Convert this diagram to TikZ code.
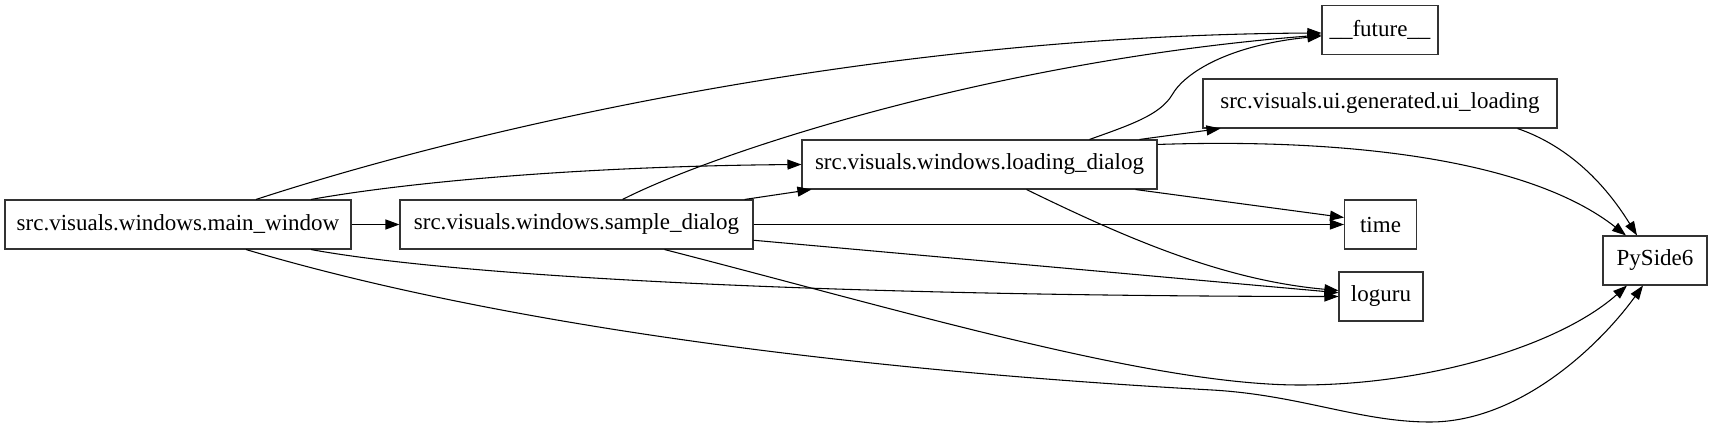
\documentclass[tikz,border=0pt]{standalone}
\usepackage{fontspec}
\setmainfont{Liberation Serif}
\usetikzlibrary{arrows.meta}
\begin{document}
\begin{tikzpicture}[x=0.75pt,y=-0.75pt,
  mod/.style={draw=black!80, line width=0.8pt, rectangle, inner sep=0pt,
    minimum height=36.75pt, font=\fontsize{17.25}{20}\selectfont},
  dep/.style={draw=black, line width=0.8pt, -{Triangle[length=10.5pt,width=7.5pt]}}]
\fill[white] (0,0) rectangle (1711,424);
\useasboundingbox (0,0) rectangle (1711,424);

\node[mod, minimum width=259.5pt] (mw) at (178,224.5) {src.visuals.windows.main\_window};
\node[mod, minimum width=264.75pt] (sd) at (576.5,224.5) {src.visuals.windows.sample\_dialog};
\node[mod, minimum width=266.25pt] (ld) at (979.5,164.5) {src.visuals.windows.loading\_dialog};
\node[mod, minimum width=87pt] (fut) at (1380,30) {\_\_future\_\_};
\node[mod, minimum width=265.5pt] (ui) at (1380,103.5) {src.visuals.ui.generated.ui\_loading};
\node[mod, minimum width=54pt] (tm) at (1380.5,224.5) {time};
\node[mod, minimum width=63pt] (lg) at (1381,296.5) {loguru};
\node[mod, minimum width=78pt] (ps) at (1655,260.5) {PySide6};

% main_window
\draw[dep] ([shift={(78,0)}]mw.north) .. controls (500,120) and (900,35) .. ([shift={(0,3)}]fut.west);
\draw[dep] ([shift={(133,0)}]mw.north) .. controls (420,180) and (600,166) .. (ld.west);
\draw[dep] (mw) -- (sd);
\draw[dep] ([shift={(133,0)}]mw.south) .. controls (450,275) and (800,296) .. (lg.west);
\draw[dep] ([shift={(68,0)}]mw.south) .. controls (500,325) and (850,370) .. (1212,390)
  .. controls (1300,395) and (1360,422) .. (1430,422)
  .. controls (1520,422) and (1600,345) .. ([shift={(-12,0)}]ps.south);

% sample_dialog
\draw[dep] ([shift={(46,0)}]sd.north) .. controls (720,150) and (1000,60) .. ([shift={(0,5)}]fut.west);
\draw[dep] (sd) -- (ld);
\draw[dep] (sd) -- (tm);
\draw[dep] (sd) -- (lg);
\draw[dep] ([shift={(88,0)}]sd.south) .. controls (900,310) and (1150,385) .. (1300,385)
  .. controls (1430,385) and (1560,345) .. ([shift={(-28,0)}]ps.south);

% loading_dialog
\draw[dep] ([shift={(110,0)}]ld.north) .. controls (1130,125) and (1160,115) .. (1172,95)
  .. controls (1185,72) and (1230,45) .. ([shift={(0,6)}]fut.west);
\draw[dep] ([shift={(160,0)}]ld.north) -- ([shift={(18,0)}]ui.south west);
\draw[dep] ([shift={(0,5)}]ld.north east) .. controls (1350,138) and (1530,160) .. ([shift={(-29,0)}]ps.north);
\draw[dep] ([shift={(-22,0)}]ld.south east) -- ([shift={(0,-7)}]tm.west);
\draw[dep] ([shift={(47,0)}]ld.south) .. controls (1120,235) and (1220,280) .. ([shift={(0,-6)}]lg.west);

% ui_loading
\draw[dep] ([shift={(-40,0)}]ui.south east) .. controls (1580,150) and (1615,200) .. ([shift={(-18,0)}]ps.north);
\end{tikzpicture}
\end{document}
